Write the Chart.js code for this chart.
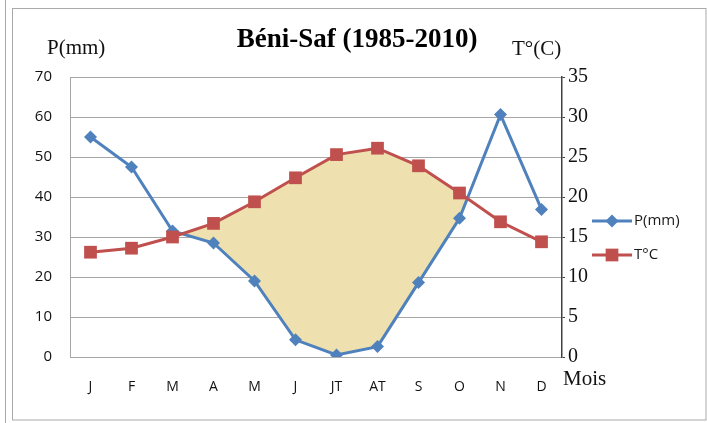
<!DOCTYPE html>
<html>
<head>
<meta charset="utf-8">
<script src="https://cdn.jsdelivr.net/npm/chart.js@4.4.1/dist/chart.umd.min.js"></script>
<style>
  html, body { margin: 0; padding: 0; background: #fff; }
  canvas { display: block; }
</style>
</head>
<body>
<canvas id="climChart" width="707" height="423"></canvas>
<script>
// Béni-Saf monthly means, 1985-2010
const months = ["J", "F", "M", "A", "M", "J", "JT", "AT", "S", "O", "N", "D"];
const precip = [55, 47.5, 31.5, 28.5, 19, 4.3, 0.5, 2.6, 18.6, 34.7, 60.6, 36.9]; // P(mm)
const temp = [13.1, 13.6, 15.0, 16.7, 19.4, 22.4, 25.3, 26.1, 23.9, 20.5, 16.9, 14.4]; // T°C
const pMax = 70, pStep = 10;
const tMax = 35, tStep = 5;

const BLUE = "#4F81BD";
const RED = "#C0504D";
const DRY = "#EEE1AF";

// frame, title, axis captions and the legend
const decor = {
  id: "decor",
  beforeDraw(chart) {
    const ctx = chart.ctx;
    ctx.save();
    ctx.fillStyle = "#fff";
    ctx.fillRect(0, 0, chart.width, chart.height);
    ctx.restore();
  },
  afterDraw(chart) {
    const ctx = chart.ctx;
    ctx.save();
    ctx.strokeStyle = "#a9a9a9";
    ctx.lineWidth = 1;
    ctx.beginPath();
    ctx.moveTo(5.5, 0);
    ctx.lineTo(5.5, 423);
    ctx.stroke();
    ctx.strokeRect(12.5, 8.5, 693.5, 411.5);

    ctx.fillStyle = "#000";
    ctx.font = 'bold 27px "Liberation Serif"';
    ctx.textAlign = "center";
    ctx.textBaseline = "alphabetic";
    ctx.fillText("Béni-Saf (1985-2010)", 357, 47);

    ctx.font = '21px "Liberation Serif"';
    ctx.textAlign = "left";
    ctx.fillStyle = "#111";
    ctx.fillText("P(mm)", 47, 54);
    ctx.fillText("T°(C)", 512, 55);
    ctx.fillText("Mois", 563, 385);

    // legend
    const items = [
      { text: "P(mm)", color: BLUE, style: "rectRot", r: 6.5, y: 221 },
      { text: "T°C", color: RED, style: "rect", r: 9, y: 255 }
    ];
    ctx.font = '15px "Open Sans"';
    ctx.textBaseline = "middle";
    items.forEach(it => {
      ctx.strokeStyle = it.color;
      ctx.lineWidth = 3;
      ctx.beginPath();
      ctx.moveTo(592, it.y);
      ctx.lineTo(632, it.y);
      ctx.stroke();
      ctx.fillStyle = it.color;
      Chart.helpers.drawPoint(ctx, { pointStyle: it.style, radius: it.r, borderWidth: 0 }, 612, it.y);
      ctx.fillStyle = "#1a1a1a";
      ctx.fillText(it.text, 634, it.y);
    });
    ctx.restore();
  }
};

const data = {
  labels: months,
  datasets: [
    {
      label: "P(mm)",
      data: precip,
      yAxisID: "y",
      borderColor: BLUE,
      backgroundColor: BLUE,
      borderWidth: 3,
      pointStyle: "rectRot",
      pointRadius: 6.5,
      pointBorderWidth: 0,
      tension: 0,
      fill: false,
      order: 2
    },
    {
      label: "T°C",
      data: temp,
      yAxisID: "y1",
      borderColor: RED,
      backgroundColor: RED,
      borderWidth: 3,
      pointStyle: "rect",
      pointRadius: 9,
      pointBorderWidth: 0,
      tension: 0,
      // dry season: temperature curve above precipitation (P = 2T)
      fill: { target: 0, above: DRY, below: "rgba(0,0,0,0)" },
      order: 1
    }
  ]
};

const config = {
  type: "line",
  data: data,
  options: {
    responsive: false,
    maintainAspectRatio: false,
    animation: false,
    layout: { padding: { left: 12, right: 105, top: 77, bottom: 21 } },
    scales: {
      x: {
        offset: true,
        grid: { display: false, drawTicks: false },
        border: { color: "#a6a6a6" },
        ticks: { font: { family: "Open Sans", size: 14 }, color: "#111", padding: 22 },
        afterFit: s => { s.height = 45; }
      },
      y: {
        position: "left",
        min: 0,
        max: pMax,
        ticks: { stepSize: pStep, font: { family: "Open Sans", size: 15 }, color: "#111", padding: 18 },
        grid: { color: "#a6a6a6", drawTicks: false },
        border: { color: "#a6a6a6" },
        afterFit: s => { s.width = 58; }
      },
      y1: {
        position: "right",
        min: 0,
        max: tMax,
        ticks: { stepSize: tStep, font: { family: "Liberation Serif", size: 20 }, color: "#111", padding: 3 },
        grid: { drawOnChartArea: false, tickLength: 3, color: "#404040" },
        border: { color: "#404040", width: 1.5 },
        afterFit: s => { s.width = 40; }
      }
    },
    plugins: {
      legend: { display: false },
      title: { display: false },
      tooltip: { enabled: false },
      filler: { drawTime: "beforeDatasetsDraw" }
    }
  },
  plugins: [decor]
};

const ctx = document.getElementById("climChart").getContext("2d");
const climChart = new Chart(ctx, config);
</script>
</body>
</html>
